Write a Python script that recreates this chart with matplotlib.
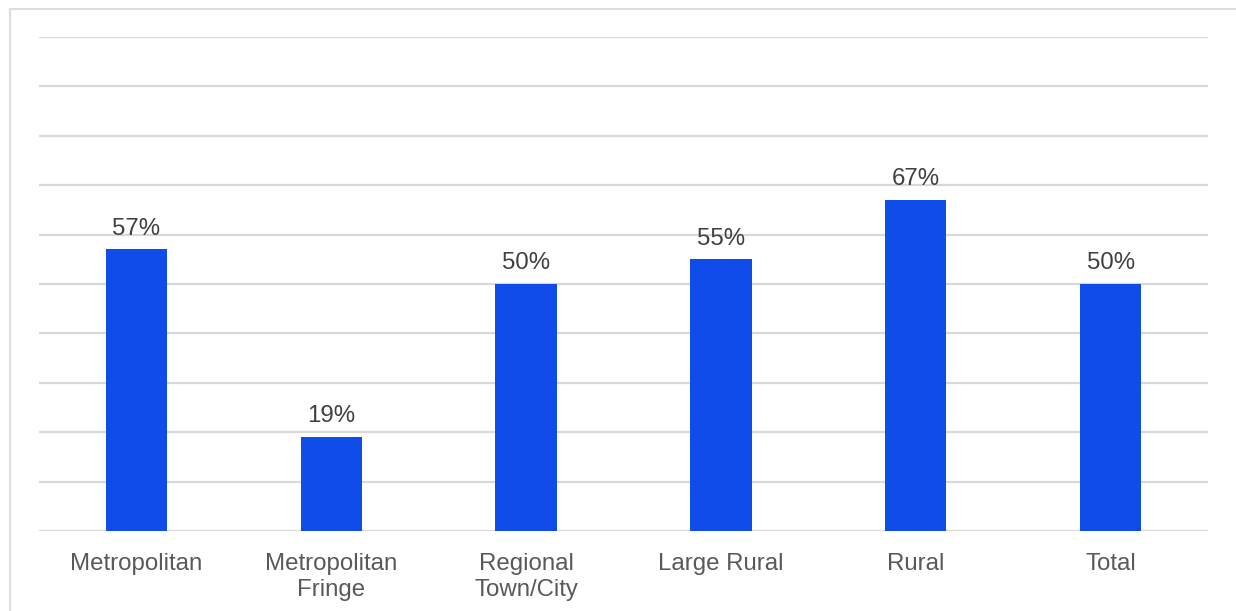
import matplotlib.pyplot as plt
from matplotlib.lines import Line2D

categories = ['Metropolitan', 'Metropolitan\nFringe', 'Regional\nTown/City', 'Large Rural', 'Rural', 'Total']
values = [57, 19, 50, 55, 67, 50]
labels = ['57%', '19%', '50%', '55%', '67%', '50%']

BAR_COLOR = '#0F4CEA'
GRID_COLOR = '#D9D9D9'

plt.rcParams['font.family'] = ['Liberation Sans', 'DejaVu Sans']

fig = plt.figure(figsize=(12.36, 6.11), dpi=100)
ax = fig.add_axes([39 / 1236, 80 / 611, 1169 / 1236, 494 / 611])

x = range(len(categories))
bars = ax.bar(x, values, width=0.315, color=BAR_COLOR, zorder=3)

for b, lab in zip(bars, labels):
    ax.annotate(lab, (b.get_x() + b.get_width() / 2, b.get_height()),
                xytext=(0, 7), textcoords='offset points',
                ha='center', va='bottom', fontsize=17.3, color='#404040')

ax.set_xlim(-0.5, len(categories) - 0.5)
ax.set_ylim(0, 100)
ax.set_yticks(range(0, 101, 10))
ax.set_yticklabels([])
ax.grid(axis='y', color=GRID_COLOR, linewidth=1.6, zorder=0)
ax.tick_params(axis='y', length=0)
ax.tick_params(axis='x', length=0, pad=15.5)
ax.set_xticks(list(x))
ax.set_xticklabels(categories, fontsize=17.3, color='#595959', linespacing=1.25)
for s in ax.spines.values():
    s.set_visible(False)

# light frame at left and top
fig.add_artist(Line2D([9.5 / 1236, 9.5 / 1236], [0, 1 - 8.5 / 611],
                      transform=fig.transFigure, color='#DDDDDD', linewidth=1.5))
fig.add_artist(Line2D([9.5 / 1236, 1], [1 - 8.5 / 611, 1 - 8.5 / 611],
                      transform=fig.transFigure, color='#DDDDDD', linewidth=1.5))

fig.savefig('out.png', dpi=100)
